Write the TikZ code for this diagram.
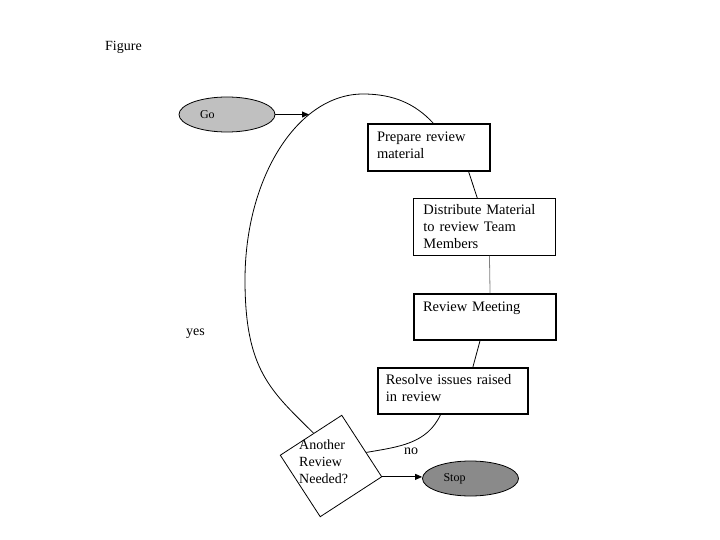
\documentclass[tikz,border=0pt]{standalone}
\usepackage{fontspec}
\setmainfont{Liberation Serif}
\usetikzlibrary{arrows.meta,shapes.geometric,calc}
\newcommand\bxfont{\fontsize{14.5}{17}\selectfont}
\newcommand\ovfont{\fontsize{12}{14}\selectfont}
\newcommand\lbfont{\fontsize{14}{17}\selectfont}
\definecolor{goGray}{HTML}{C0C0C0}
\definecolor{stopGray}{HTML}{8A8A8A}
\begin{document}
\begin{tikzpicture}[x=1pt,y=1pt,
  box/.style={draw, rectangle, inner ysep=0pt, anchor=north west, align=left, font=\bxfont},
  oval/.style={draw, ellipse, line width=0.8pt, minimum width=96pt, minimum height=35pt, inner sep=0pt, text width=54pt, align=left, font=\ovfont},
  lbl/.style={inner sep=0pt, font=\lbfont},
  conn/.style={line width=0.8pt},
  arr/.style={line width=0.8pt, -{Triangle[length=7pt,width=6pt]}}]
\fill[white] (0,0) rectangle (720,-540);
\useasboundingbox (0,0) rectangle (720,-540);

\node[lbl, anchor=base west] (fig) at (105,-51) {Figure};

\node[oval, fill=goGray] (go) at (227,-114.5) {Go};
\node[oval, fill=stopGray] (stop) at (470.5,-478.5) {Stop};

\node[box, line width=2pt, inner xsep=9pt, text width=104pt, text height=17.5pt, text depth=29.5pt] (prep) at (367,-123) {Prepare review\\material};
\node[box, line width=0.9pt, inner xsep=10pt, text width=122pt, text height=16.5pt, text depth=40.5pt] (dist) at (413,-198) {Distribute Material\\to review Team\\Members};
\node[box, line width=2pt, inner xsep=9pt, text width=124pt, text height=17.5pt, text depth=28.5pt] (meet) at (413,-293) {Review Meeting};
\node[box, line width=1.5pt, inner xsep=8pt, text width=134pt, text height=16.5pt, text depth=29.5pt] (res) at (377,-367) {Resolve issues raised\\in review};

\node[draw, diamond, aspect=1, rotate=-12, minimum width=104pt, minimum height=104pt, inner sep=0pt, line width=0.8pt] (dia) at (331,-466) {};
\node[lbl, text width=60pt, align=left, anchor=base west] (q) at (299,-449.5) {Another\\Review\\Needed?};

\node[lbl, anchor=base west] (yes) at (186,-335) {yes};
\node[lbl, anchor=base west] (no) at (404,-454) {no};

\coordinate (yesL) at (245,-280);
\coordinate (yesT) at (363,-94);
\coordinate (gotip) at (309,-114.5);

% yes loop
\draw[conn] (dia.130.6) .. controls (270.6,-390.6) and (245,-370) .. (yesL)
  .. controls (245,-177) and (298,-94) .. (yesT)
  .. controls (393,-94) and (415,-103.5) .. ($(prep.north west)!0.533!(prep.north east)$);
\draw[arr] (go.east) -- (gotip);

% chain
\draw[conn] ($(prep.south west)!0.82!(prep.south east)$) -- ($(dist.north west)!0.45!(dist.north east)$);
\draw[line width=0.8pt, gray] ($(dist.south west)!0.535!(dist.south east)$) -- ($(meet.north west)!0.535!(meet.north east)$);
\draw[conn] ($(meet.south west)!0.465!(meet.south east)$) -- ($(res.north west)!0.633!(res.north east)$);
\draw[conn] ($(res.south west)!0.42!(res.south east)$) to[out=-115, in=10] (dia.33);

\draw[arr] (dia.east) -- (dia.east -| stop.west);
\end{tikzpicture}
\end{document}
